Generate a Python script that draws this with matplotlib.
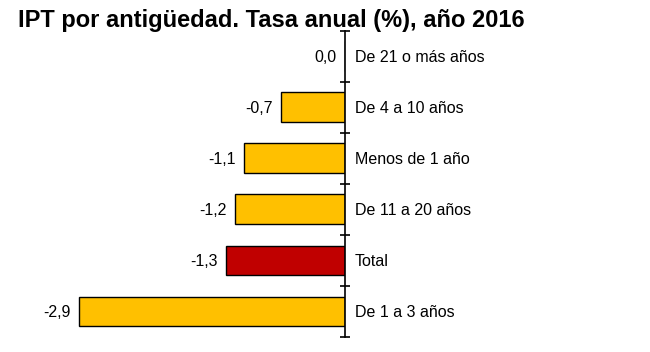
import matplotlib.pyplot as plt

plt.rcParams['font.family'] = ['Liberation Sans', 'DejaVu Sans']

# datos (de arriba a abajo)
categorias = ["De 21 o más años", "De 4 a 10 años", "Menos de 1 año",
              "De 11 a 20 años", "Total", "De 1 a 3 años"]
tasas = [0.0, -0.7, -1.1, -1.2, -1.3, -2.9]
etiquetas = ["0,0", "-0,7", "-1,1", "-1,2", "-1,3", "-2,9"]

colores = ["#C00000" if c == "Total" else "#FFC000" for c in categorias]

fig = plt.figure(figsize=(6.5, 3.52), dpi=100)
ax = fig.add_axes([20 / 650, 15 / 352, 325 / 650, 306.5 / 352])

pos = list(range(len(categorias)))
ax.barh(pos, tasas, height=0.58, color=colores, edgecolor="black", linewidth=1)

for p, v, t in zip(pos, tasas, etiquetas):
    ax.annotate(t, (v, p), xytext=(-6, 0), textcoords="offset points",
                ha="right", va="center_baseline", fontsize=11.5)

ax.set_xlim(-325 / 91.7, 0)
ax.set_ylim(len(categorias) - 0.5, -0.5)

for s in ["top", "bottom", "left"]:
    ax.spines[s].set_visible(False)
ax.spines["right"].set_linewidth(1.2)
ax.set_xticks([])

ax.yaxis.tick_right()
ax.set_yticks(pos)
ax.set_yticklabels(categorias, fontsize=11.5)
ax.tick_params(axis="y", which="major", length=0, pad=7)
ax.set_yticks([p - 0.5 for p in pos] + [len(pos) - 0.5], minor=True)
ax.tick_params(axis="y", which="minor", direction="inout", length=7, width=1.2)

fig.text(18 / 650, 1 - 20 / 352, "IPT por antigüedad. Tasa anual (%), año 2016",
         fontsize=17, fontweight="bold", va="center", ha="left")

fig.savefig("out.png", dpi=100)
